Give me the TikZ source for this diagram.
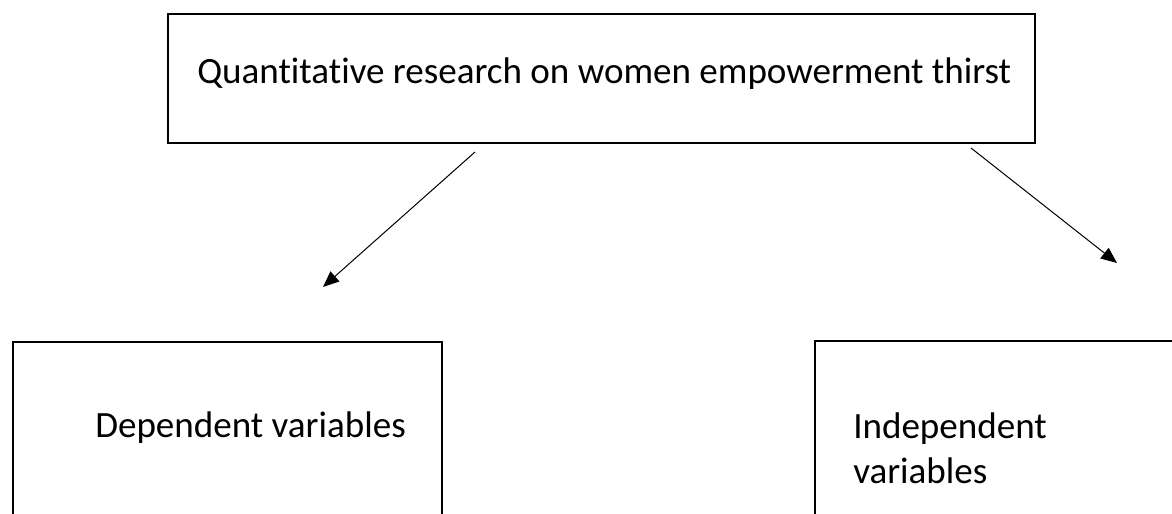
\documentclass[tikz,border=0pt]{standalone}
\usepackage{fontspec}
\setmainfont{Carlito}[RawFeature={-liga;-clig;-calt;-ccmp;-rlig}]
\usepackage{tikz}
\usetikzlibrary{arrows.meta,positioning}
\tikzset{
  box/.style ={draw, line width=1.5pt, inner sep=0pt, outer sep=0pt},
  lbl/.style ={font=\fontsize{27.8pt}{33.75pt}\selectfont, inner sep=0pt, align=left},
  arr/.style ={-{Triangle[length=12pt,width=10pt]}, line width=0.75pt},
}

\begin{document}
\begin{tikzpicture}[x=0.75pt, y=-0.75pt]
  \useasboundingbox (0,0) rectangle (1172,514);
  \node[box, anchor=north west, minimum width=650.25pt, minimum height=96.75pt] (top) at (168,14) {};
  \node[box, anchor=north west, minimum width=321.75pt, minimum height=150pt] (dep) at (13,342) {};
  \node[box, anchor=north west, minimum width=420pt, minimum height=150pt] (indep) at (815,341) {};
  \node[lbl, anchor=base west] (toptext) at ([shift={(29,69)}]top.north west) {Quantitative research on women empowerment thirst};
  \node[lbl, anchor=base west] (deptext) at ([shift={(82,95)}]dep.north west) {Dependent variables};
  \node[lbl, anchor=base west] (indeptext) at ([shift={(38,142)}]indep.north west) {Independent\\variables};
  \coordinate (dstart) at ([shift={(307,9)}]top.south west);
  \coordinate (dend) at ([shift={(310,-55)}]dep.north west);
  \coordinate (istart) at ([shift={(-64,5)}]top.south east);
  \coordinate (iend) at ([shift={(302,-78)}]indep.north west);
  \draw[arr] (dstart)--(dend);
  \draw[arr] (istart)--(iend);
\end{tikzpicture}
\end{document}
